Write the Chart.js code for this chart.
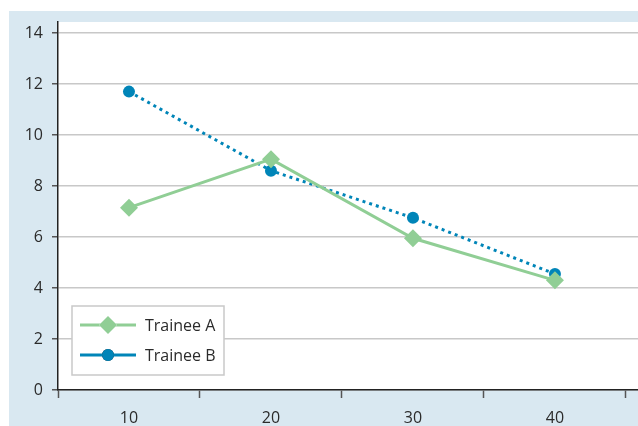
<!DOCTYPE html>
<html>
<head>
<meta charset="utf-8">
<script src="https://cdn.jsdelivr.net/npm/chart.js@4"></script>
<style>
  html, body { margin: 0; padding: 0; background: #fff; overflow: hidden; }
  canvas { display: block; }
</style>
</head>
<body>
<canvas id="chart" width="638" height="426"></canvas>
<script>
const xValues = [10, 20, 30, 40];
const traineeA = [7.15, 9.05, 5.95, 4.3];
const traineeB = [11.7, 8.6, 6.75, 4.55];
const seriesNames = ['Trainee A', 'Trainee B'];
const yTicks = [0, 2, 4, 6, 8, 10, 12, 14];
const xTickMarks = [5, 15, 25, 35, 45];

const green = '#90ce95';
const blue = '#0085b8';
const font = '"Open Sans", "Noto Sans", sans-serif';

// light blue panel + white plot area
const background = {
    id: 'background',
    beforeDraw(chart) {
        const c = chart.ctx;
        const a = chart.chartArea;
        c.save();
        c.fillStyle = '#d9e8f1';
        c.fillRect(9, 11, chart.width - 9, chart.height - 11);
        c.fillStyle = '#ffffff';
        c.fillRect(a.left, a.top, a.right - a.left, a.bottom - a.top);
        c.restore();
    }
};

// legend box in lower left of plot
const legendBox = {
    id: 'legendBox',
    afterDraw(chart) {
        const c = chart.ctx;
        c.save();
        c.fillStyle = '#fff';
        c.fillRect(72, 306, 152, 69);
        c.strokeStyle = '#c9c9c9';
        c.lineWidth = 1.5;
        c.strokeRect(72, 306, 152, 69);
        chart.data.datasets.forEach((ds, i) => {
            const y = 325 + i * 30;
            c.strokeStyle = ds.borderColor;
            c.lineWidth = 3;
            c.setLineDash([]);
            c.beginPath();
            c.moveTo(80, y);
            c.lineTo(136, y);
            c.stroke();
            Chart.helpers.drawPoint(c, {
                pointStyle: ds.pointStyle,
                radius: ds.pointRadius,
                borderWidth: 0
            }, 108, y);
            c.fillStyle = ds.pointBackgroundColor;
            c.fill();
            c.fillStyle = '#2b2b2b';
            c.font = '16px ' + font;
            c.textBaseline = 'middle';
            c.fillText(ds.label, 145, y + 1);
        });
        c.restore();
    }
};

new Chart(document.getElementById('chart'), {
    type: 'line',
    data: {
        datasets: [
            {
                label: seriesNames[0],
                data: xValues.map((x, i) => ({ x: x, y: traineeA[i] })),
                borderColor: green,
                backgroundColor: green,
                pointBackgroundColor: green,
                pointBorderWidth: 0,
                borderWidth: 3,
                pointStyle: 'rectRot',
                pointRadius: 9
            },
            {
                label: seriesNames[1],
                data: xValues.map((x, i) => ({ x: x, y: traineeB[i] })),
                borderColor: blue,
                backgroundColor: blue,
                pointBackgroundColor: blue,
                pointBorderWidth: 0,
                borderWidth: 3,
                borderDash: [3, 4],
                pointStyle: 'circle',
                pointRadius: 6
            }
        ]
    },
    options: {
        responsive: false,
        animation: false,
        layout: { autoPadding: false, padding: { top: 22, left: 0, right: 0, bottom: 0 } },
        plugins: {
            legend: { display: false },
            tooltip: { enabled: false }
        },
        scales: {
            x: {
                type: 'linear',
                min: 5,
                max: 45.85,
                afterBuildTicks: axis => {
                    axis.ticks = xTickMarks.concat(xValues).sort((a, b) => a - b).map(v => ({ value: v }));
                },
                afterFit: scale => {
                    scale.height = 36;
                    scale.paddingLeft = 0;
                    scale.paddingRight = 0;
                },
                border: { color: '#222', width: 1.5 },
                grid: {
                    drawOnChartArea: false,
                    tickLength: 8,
                    tickWidth: 1.5,
                    tickColor: ctx => (ctx.tick && xTickMarks.includes(ctx.tick.value)) ? '#555' : 'transparent'
                },
                ticks: {
                    autoSkip: false,
                    maxRotation: 0,
                    padding: 11,
                    color: '#2b2b2b',
                    font: { family: font, size: 16 },
                    callback: v => (xValues.includes(v) ? v : '')
                }
            },
            y: {
                min: 0,
                max: 14.43,
                afterBuildTicks: axis => {
                    axis.ticks = yTicks.map(v => ({ value: v }));
                },
                afterFit: scale => { scale.width = 58; },
                border: { color: '#222', width: 1.5 },
                grid: {
                    color: '#c8c8c8',
                    lineWidth: 1.5,
                    tickLength: 6,
                    tickColor: '#555'
                },
                ticks: {
                    padding: 9,
                    color: '#2b2b2b',
                    font: { family: font, size: 16 }
                }
            }
        }
    },
    plugins: [background, legendBox]
});
</script>
</body>
</html>
